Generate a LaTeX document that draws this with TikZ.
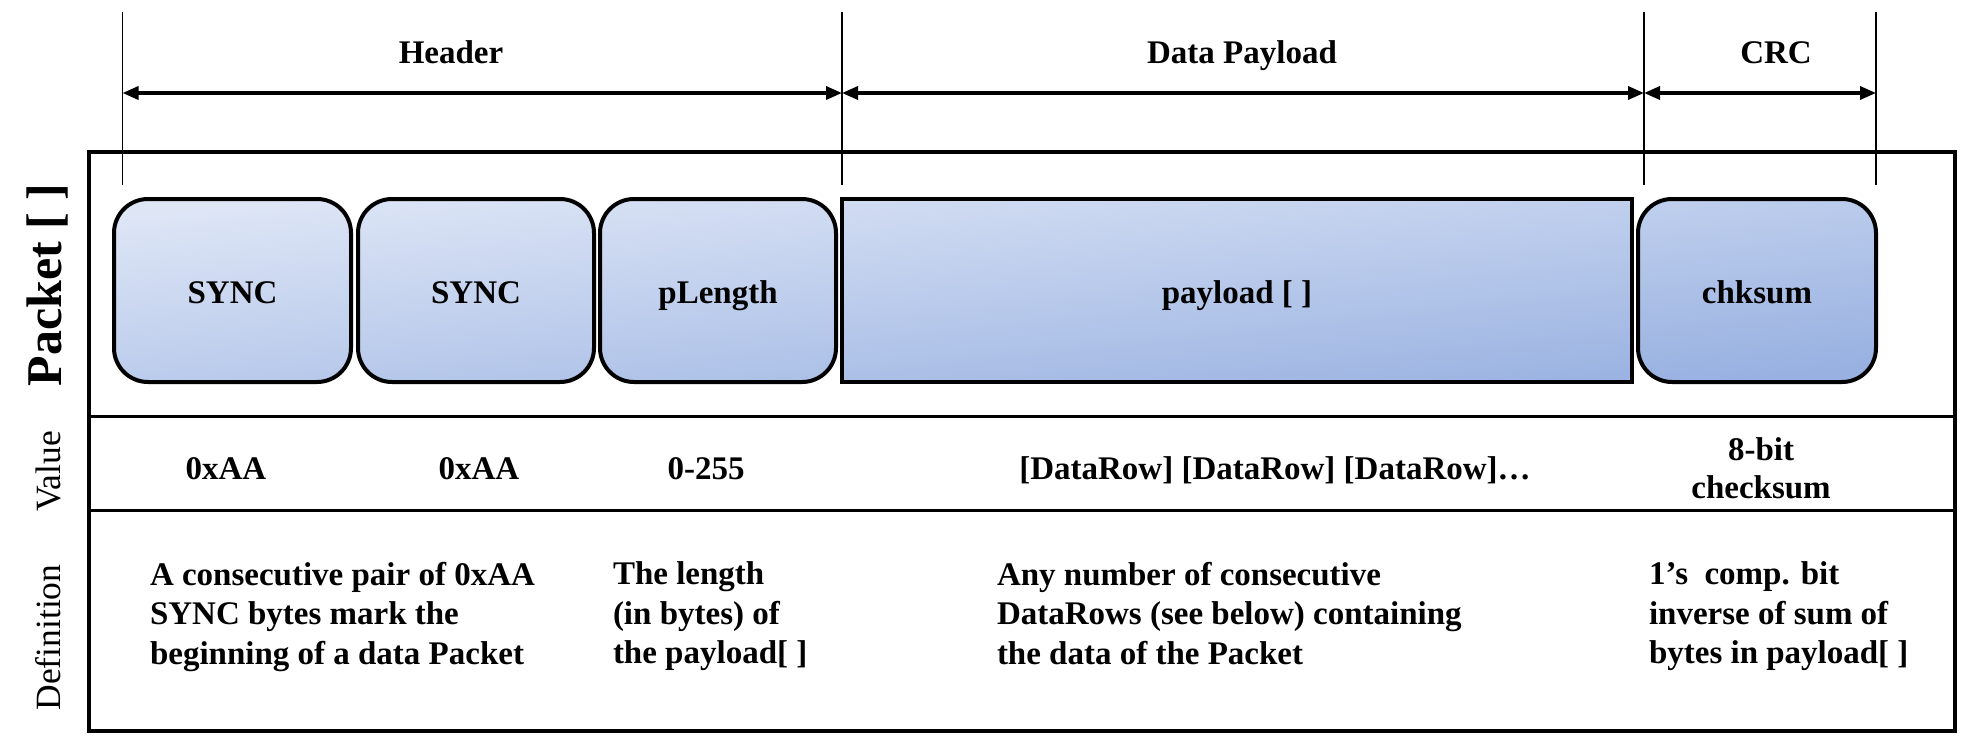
\documentclass[tikz,border=0pt]{standalone}
\usepackage{fontspec}
\setmainfont{Liberation Serif}
\usetikzlibrary{arrows.meta,backgrounds}
\definecolor{boxlight}{RGB}{222,230,246}
\definecolor{boxdark}{RGB}{152,177,225}
\begin{document}
\begin{tikzpicture}[x=1pt,y=-1pt,
  lbl/.style={font=\fontsize{33}{39.5}\selectfont\bfseries, inner sep=0pt, outer sep=0pt},
  field/.style={draw=black, line width=4pt, rounded corners=34pt, minimum height=183pt,
    inner sep=0pt, outer sep=0pt, text height=25pt, text depth=0pt, lbl},
  tickline/.style={line width=1.5pt},
  span/.style={line width=3.5pt, {Triangle[length=16pt,width=13pt]}-{Triangle[length=16pt,width=13pt]}},
  rowlabel/.style={font=\fontsize{35.5}{40}\selectfont, rotate=90, anchor=base, inner sep=0pt},
  defn/.style={lbl, align=left, anchor=north west},
  val/.style={lbl, anchor=base},
  rowrule/.style={line width=3pt}
]
\useasboundingbox (0,0) rectangle (1963,739);

% frame
\node[draw, line width=4pt, minimum width=1866pt, minimum height=579pt, inner sep=0pt, outer sep=0pt] (frame) at (1022,441.5) {};

% tick lines
\coordinate (tAt) at (122.5,12);  \coordinate (tAb) at (122.5,185);
\coordinate (tBt) at (842,12);    \coordinate (tBb) at (842,185);
\coordinate (tCt) at (1644,12);   \coordinate (tCb) at (1644,185);
\coordinate (tDt) at (1876,12);   \coordinate (tDb) at (1876,185);
\draw[tickline] (tAt) -- (tAb);
\draw[tickline] (tBt) -- (tBb);
\draw[tickline] (tCt) -- (tCb);
\draw[tickline] (tDt) -- (tDb);

% span arrows
\coordinate (aA) at (122.5,93);
\coordinate (aB) at (842,93);
\coordinate (aC) at (1644,93);
\coordinate (aD) at (1876,93);
\draw[span] (aA) -- (aB);
\draw[span] (aB) -- (aC);
\draw[span] (aC) -- (aD);

\node[lbl, anchor=base] (hdr) at (451,63) {Header};
\node[lbl, anchor=base] (dpl) at (1242,63) {Data Payload};
\node[lbl, anchor=base] (crc) at (1776,63) {CRC};

% fields
\node[field, minimum width=237pt] (sync1) at (232.5,290.5) {SYNC};
\node[field, minimum width=236pt] (sync2) at (476,290.5) {SYNC};
\node[field, minimum width=236pt] (plen) at (718,290.5) {pLength};
\node[field, sharp corners, minimum width=790pt] (pay) at (1237,290.5) {payload [ ]};
\node[field, minimum width=238pt] (chk) at (1757,290.5) {chksum};

\begin{scope}[on background layer]
  \clip (pay.south west) rectangle (pay.north east)
    [rounded corners=34pt]
    (sync1.south west) rectangle (sync1.north east)
    (sync2.south west) rectangle (sync2.north east)
    (plen.south west) rectangle (plen.north east)
    (chk.south west) rectangle (chk.north east);
  \shade[top color=boxlight, bottom color=boxdark, shading angle=6] (sync1.north west) rectangle (chk.south east);
\end{scope}

% row rules
\coordinate (r1w) at (89,416);  \coordinate (r1e) at (1955,416);
\coordinate (r2w) at (89,510);  \coordinate (r2e) at (1955,510);
\draw[rowrule] (r1w) -- (r1e);
\draw[rowrule] (r2w) -- (r2e);

% row labels
\node[rowlabel, font=\fontsize{50}{52}\selectfont\bfseries] (lpk) at (61,285) {Packet [ ]};
\node[rowlabel] (lval) at (60,471.5) {Value};
\node[rowlabel] (ldef) at (60,637.5) {Definition};

% values
\node[val] (v1) at (226,479) {0xAA};
\node[val] (v2) at (479,479) {0xAA};
\node[val] (v3) at (706,479) {0-255};
\node[val] (v4) at (1275,479) {[DataRow] [DataRow] [DataRow]…};
\node[val] (v5a) at (1761,460) {8-bit};
\node[val] (v5b) at (1761,498) {checksum};

% definitions
\node[defn] (d1) at (150,562) {A consecutive pair of 0xAA\\SYNC bytes mark the\\beginning of a data Packet};
\node[defn] (d2) at (613,562) {The length\\(in bytes) of\\the payload[ ]};
\node[defn] (d3) at (997,562) {Any number of consecutive\\DataRows (see below) containing\\the data of the Packet};
\node[defn] (d4) at (1649,562) {1’s~ comp. bit\\inverse of sum of\\bytes in payload[ ]};
\end{tikzpicture}
\end{document}
